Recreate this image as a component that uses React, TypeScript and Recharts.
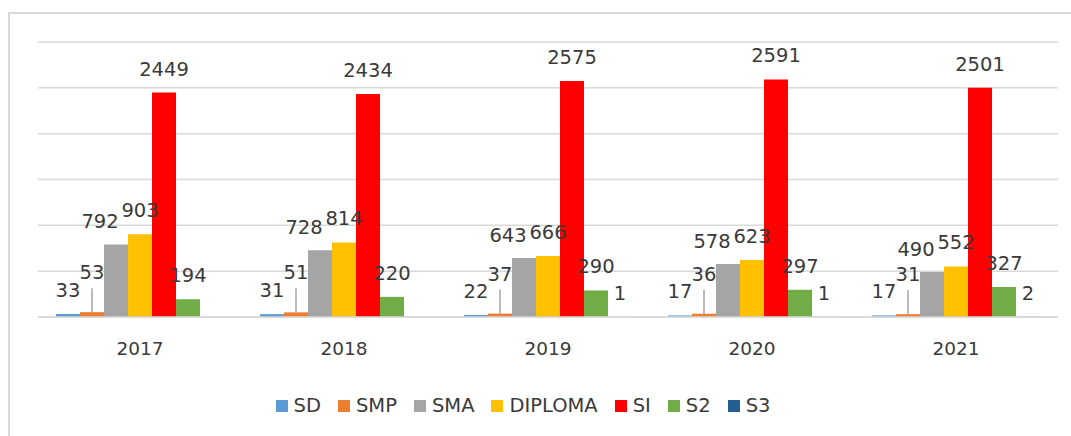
import { Bar, BarChart, CartesianGrid, LabelList, Legend, XAxis, YAxis } from "recharts";

const years = ["2017", "2018", "2019", "2020", "2021"];
const sd = [33, 31, 22, 17, 17];
const smp = [53, 51, 37, 36, 31];
const sma = [792, 728, 643, 578, 490];
const diploma = [903, 814, 666, 623, 552];
const si = [2449, 2434, 2575, 2591, 2501];
const s2 = [194, 220, 290, 297, 327];
const s3: (number | null)[] = [null, null, 1, 1, 2];
const yTicks = [0, 500, 1000, 1500, 2000, 2500, 3000];

const series = [
  { key: "SD", values: sd, color: "#5b9bd5", dx: 0, lift: 17, leader: false },
  { key: "SMP", values: smp, color: "#ed7d31", dx: 0, lift: 33, leader: true },
  { key: "SMA", values: sma, color: "#a5a5a5", dx: -16, lift: 16, leader: false },
  { key: "DIPLOMA", values: diploma, color: "#ffc000", dx: 0, lift: 17, leader: false },
  { key: "SI", values: si, color: "#ff0000", dx: 0, lift: 17, leader: false },
  { key: "S2", values: s2, color: "#70ad47", dx: 0, lift: 17, leader: false },
  { key: "S3", values: s3, color: "#255e91", dx: 0, lift: 17, leader: false },
];

const data = years.map((year, i) => {
  const row: Record<string, string | number | null> = { year };
  series.forEach((s) => {
    row[s.key] = s.values[i];
  });
  return row;
});

const FONT = "'DejaVu Sans', sans-serif";
const TEXT = "#3a3a3a";

function makeLabel(dx: number, lift: number, leader: boolean) {
  return (props: any) => {
    const { x, y, width, value } = props;
    if (value === null || value === undefined) return null;
    const cx = Number(x) + Number(width) / 2;
    const top = Number(y);
    return (
      <g>
        {leader ? <line x1={cx} x2={cx} y1={top - lift + 9} y2={top} stroke="#a6a6a6" strokeWidth={1.5} /> : null}
        <text x={cx + dx} y={top - lift} textAnchor="middle" fontSize={19.5} fontFamily={FONT} fill={TEXT}>
          {value}
        </text>
      </g>
    );
  };
}

function LegendContent() {
  return (
    <div style={{ height: 40, display: "flex", justifyContent: "center", alignItems: "flex-start", fontFamily: FONT, fontSize: 19.5, color: TEXT, lineHeight: "20px", paddingRight: 50 }}>
      {series.map((s, i) => (
        <div key={s.key} style={{ display: "flex", alignItems: "center", marginRight: i === series.length - 1 ? 0 : 17 }}>
          <span style={{ width: 12, height: 12, background: s.color, marginRight: 6, display: "inline-block" }} />
          <span>{s.key}</span>
        </div>
      ))}
    </div>
  );
}

export default function App() {
  return (
    <div style={{ position: "absolute", left: 8, top: 12, width: 1063, height: 424, borderLeft: "2px solid #d9d9d9", borderTop: "2px solid #d9d9d9", boxSizing: "border-box", background: "#fff" }}>
      <BarChart width={1061} height={422} data={data} margin={{ top: 28, right: 13, left: 28, bottom: 0 }} barCategoryGap={18} barGap={0}>
        <CartesianGrid vertical={false} stroke="#d9d9d9" strokeWidth={1.5} />
        <XAxis dataKey="year" height={79} tickLine={false} tickSize={0} tickMargin={25} axisLine={{ stroke: "#d9d9d9", strokeWidth: 1.5 }} tick={{ fontSize: 18.5, fontFamily: FONT, fill: TEXT }} />
        <YAxis hide domain={[0, 3000]} ticks={yTicks} />
        <Legend verticalAlign="bottom" content={<LegendContent />} />
        {series.map((s) => (
          <Bar key={s.key} dataKey={s.key} fill={s.color} isAnimationActive={false}>
            <LabelList dataKey={s.key} content={makeLabel(s.dx, s.lift, s.leader)} />
          </Bar>
        ))}
      </BarChart>
    </div>
  );
}
